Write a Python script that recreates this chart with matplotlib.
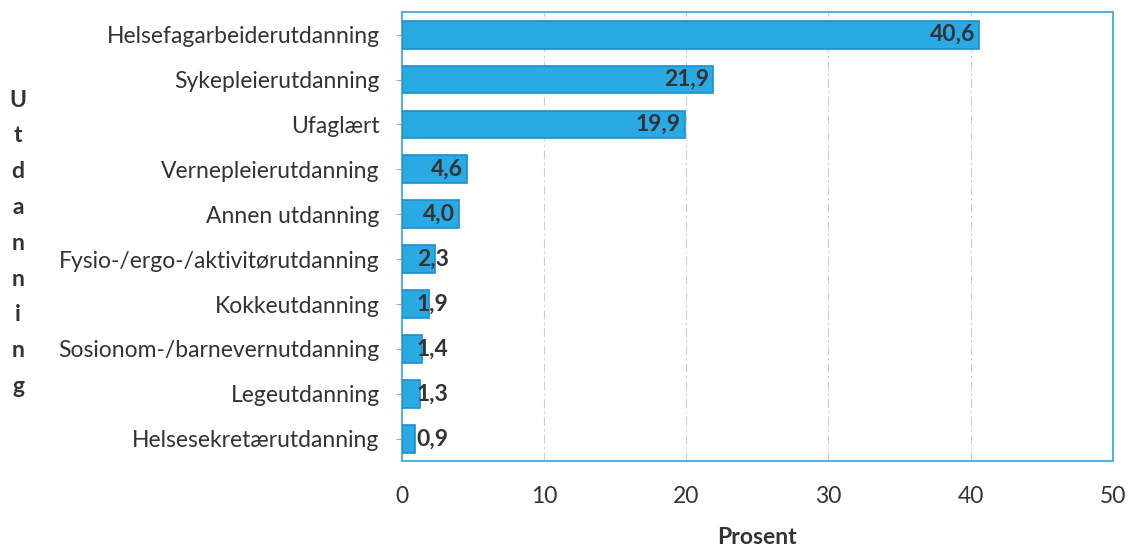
import matplotlib.pyplot as plt
import numpy as np

categories = ["Helsefagarbeiderutdanning", "Sykepleierutdanning", "Ufaglært",
              "Vernepleierutdanning", "Annen utdanning", "Fysio-/ergo-/aktivitørutdanning",
              "Kokkeutdanning", "Sosionom-/barnevernutdanning", "Legeutdanning",
              "Helsesekretærutdanning"]
values = [40.6, 21.9, 19.9, 4.6, 4.0, 2.3, 1.9, 1.4, 1.3, 0.9]
value_labels = ["40,6", "21,9", "19,9", "4,6", "4,0", "2,3", "1,9", "1,4", "1,3", "0,9"]
xticks = [0, 10, 20, 30, 40, 50]

plt.rcParams['font.family'] = ['Lato', 'DejaVu Sans']
fs = 16.5

fig = plt.figure(figsize=(11.32, 5.53), dpi=100)
ax = fig.add_axes([0.355, 0.166, 0.628, 0.812])

y = np.arange(len(categories))
ax.barh(y, values, height=0.62, color='#2aaae4', edgecolor='#1c8fd0', linewidth=1.2, zorder=3)

# labels sit at the inside end of each bar, but never further left than the short-bar minimum
for yi, v, lab in zip(y, values, value_labels):
    ax.text(max(v - 0.3, 3.3), yi, lab, ha='right', va='center',
            fontsize=fs, fontweight='bold', color='#333333', zorder=4)

ax.set_xlim(0, 50)
ax.set_ylim(len(categories) - 0.5, -0.5)
ax.set_yticks(y)
ax.set_yticklabels(categories, fontsize=fs, color='#333333')
ax.set_xticks(xticks)
ax.set_xticklabels([str(t) for t in xticks], fontsize=fs, color='#333333')
ax.tick_params(axis='x', length=0, pad=18)
ax.tick_params(axis='y', length=4, color='#aaaaaa', pad=12)
ax.grid(axis='x', color='#d0d0d0', linestyle=(0, (8, 3, 2, 3)), linewidth=0.8, zorder=0)
for s in ax.spines.values():
    s.set_color('#5aaee0')
    s.set_linewidth(1.5)

ax.set_xlabel("Prosent", fontsize=fs, fontweight='bold', color='#333333', labelpad=14)
fig.text(0.016, 0.56, "\n".join("Utdanning"), ha='center', va='center',
         fontsize=fs, fontweight='bold', color='#333333', linespacing=1.87)

fig.savefig("out.png", dpi=100)
